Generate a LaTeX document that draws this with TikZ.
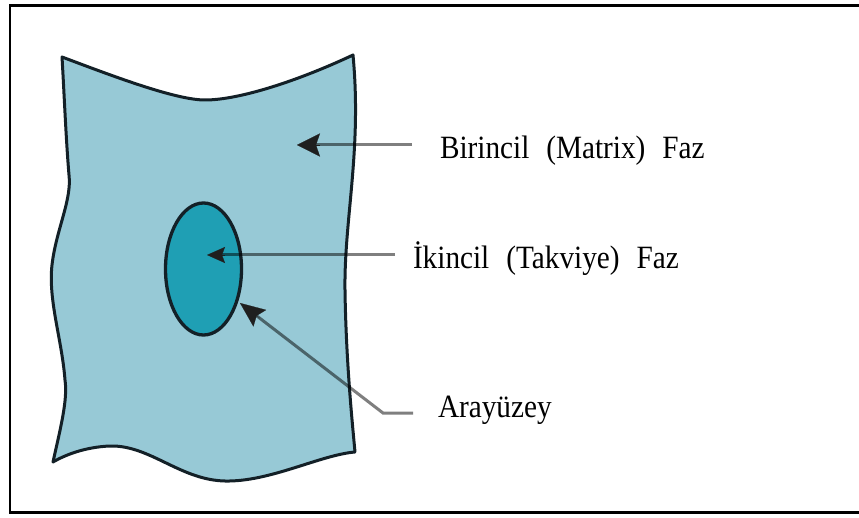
\documentclass[tikz,border=0pt]{standalone}
\usepackage{fontspec}
\setmainfont{Liberation Serif}
\newfontfamily\labelfont[FakeStretch=0.9]{Liberation Serif}
\usetikzlibrary{arrows.meta,calc}

\definecolor{matrixblue}{HTML}{97C9D6}
\definecolor{reinfteal}{HTML}{1F9FB4}
\definecolor{outline}{HTML}{132027}

\tikzset{
  phase/.style={draw=outline, line width=3pt, line join=round},
  leader/.style={draw=black, draw opacity=0.5, line width=3pt, shorten >=9pt},
  headtip/.style={draw=black!88, line width=0.2pt},
  label/.style={anchor=base west, inner sep=0pt, outer sep=0pt,
    font=\labelfont\fontsize{32.5}{38}\selectfont},
  frame/.style={draw=black, line width=2.6pt}
}
\newcommand{\gap}{\hspace{17pt}}

\begin{document}
\begin{tikzpicture}[x=1pt,y=-1pt]
\useasboundingbox (0,0) rectangle (859,518);
\fill[white] (0,0) rectangle (859,518);

% outer frame (its right side lies beyond the page)
\draw[frame] (870,5.5) -- (10,5.5) -- (10,512.5) -- (870,512.5);

% primary (matrix) phase: a torn sheet with wavy edges
\path[phase, fill=matrixblue]
  (62,57) .. controls (110,75) and (175,100) .. (205,100)
  .. controls (240,100) and (300,80) .. (353,55)
  .. controls (362,150) and (344,220) .. (345,290)
  .. controls (346,360) and (352,420) .. (355,452)
  .. controls (320,455) and (270,482) .. (225,481)
  .. controls (180,480) and (150,445) .. (110,446)
  .. controls (85,447) and (65,455) .. (53,462)
  .. controls (60,430) and (68,400) .. (65,380)
  .. controls (62,340) and (48,300) .. (52,265)
  .. controls (56,230) and (72,200) .. (69,175)
  .. controls (66,140) and (64,90) .. cycle;

% secondary (reinforcement) phase
\path[phase, fill=reinfteal, line width=3.3pt] (203.5,269) ellipse [x radius=38, y radius=66];

% labels
\node[label] (lblMatrix) at (440,159) {Birincil\gap(Matrix)\gap Faz};
\node[label] (lblReinf)  at (413,269) {İkincil\gap(Takviye)\gap Faz};
\node[label] (lblInter)  at (438,417) {Arayüzey};

% leader line end points
\coordinate (mStart) at (412,145);
\coordinate (mTip)   at (297,145);
\coordinate (rStart) at (395,255);
\coordinate (rTip)   at (207,255);
\coordinate (iStart) at (413,413);
\coordinate (iBend)  at (383,413);
\coordinate (iTip)   at (240,303);

% leader lines
\draw[leader] (mStart) -- (mTip);
\draw[leader] (rStart) -- (rTip);
\draw[leader] (iStart) -- (iBend) -- (iTip);

% arrow heads
\draw[headtip, -{Stealth[length=23pt,width=23pt,inset=4pt]}] ($(mTip)!23pt!(mStart)$) -- (mTip);
\draw[headtip, -{Stealth[length=18pt,width=16pt,inset=3pt]}] ($(rTip)!18pt!(rStart)$) -- (rTip);
\draw[headtip, -{Stealth[length=25pt,width=21pt,inset=4pt]}] ($(iTip)!25pt!(iBend)$) -- (iTip);
\end{tikzpicture}
\end{document}
